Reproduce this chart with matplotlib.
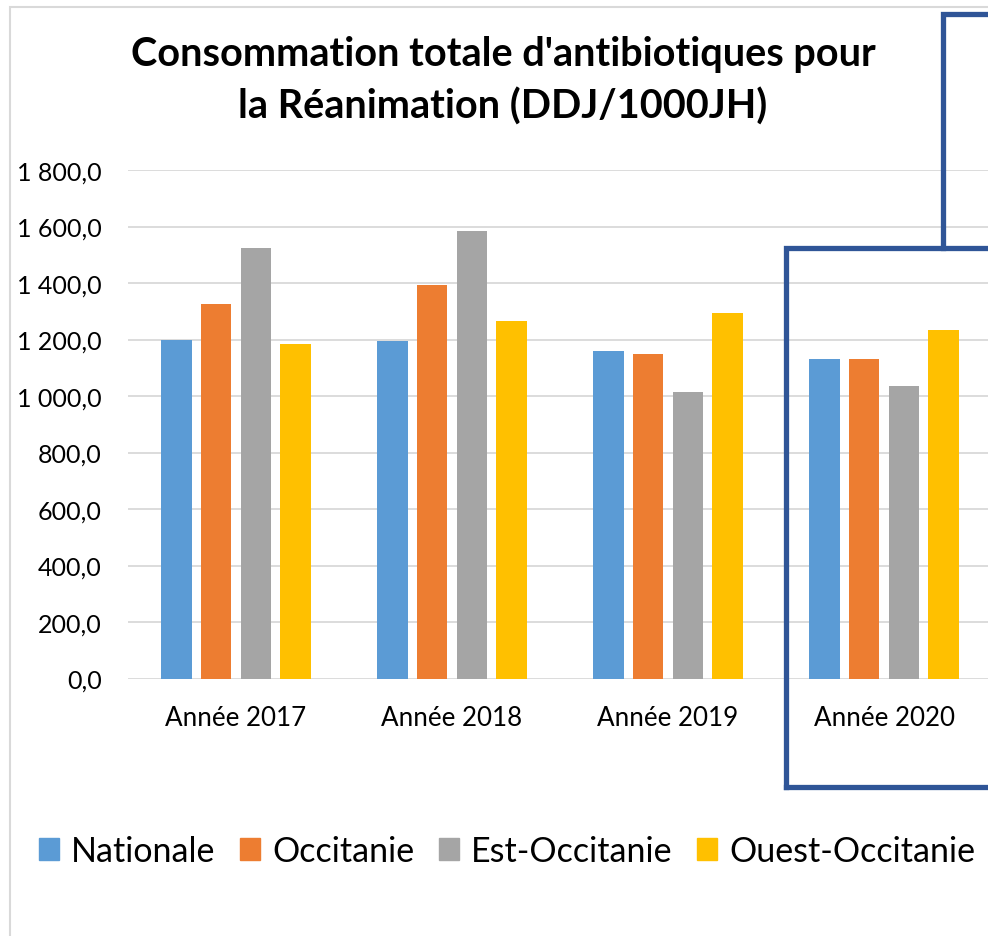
import numpy as np
import matplotlib
matplotlib.use("Agg")
import matplotlib.pyplot as plt
from matplotlib.lines import Line2D
from matplotlib.patches import Patch, Rectangle
from matplotlib.ticker import FuncFormatter

plt.rcParams['font.family'] = ['Lato', 'DejaVu Sans']

years = ["Année 2017", "Année 2018", "Année 2019", "Année 2020"]
series = ["Nationale", "Occitanie", "Est-Occitanie", "Ouest-Occitanie"]
nationale = [1199, 1194, 1159, 1131]
occitanie = [1325, 1392, 1150, 1131]
est_occ = [1523, 1585, 1013, 1036]
ouest_occ = [1185, 1265, 1293, 1234]
colors = ["#5B9BD5", "#ED7D31", "#A5A5A5", "#FFC000"]

W, H = 988, 937
fig = plt.figure(figsize=(W/100, H/100), dpi=100)
fx = lambda x: x / W
fy = lambda y: 1 - y / H

# outer chart frame (only left/top visible)
fig.patches.append(Rectangle((fx(10), fy(960)), fx(1100), fy(8) - fy(960),
                             transform=fig.transFigure, fill=False,
                             edgecolor="#D9D9D9", lw=1.5))

ax = fig.add_axes([fx(128), fy(679.5), fx(992) - fx(128), fy(171) - fy(679.5)])
x = np.arange(len(years))
bw = 0.143; step = 0.185
for i, (vals, c) in enumerate(zip([nationale, occitanie, est_occ, ouest_occ], colors)):
    ax.bar(x + (i - 1.5) * step, vals, width=bw, color=c, zorder=3)

ax.set_xlim(-0.5, 3.5)
ax.set_ylim(0, 1800)
ax.set_yticks(np.arange(0, 1801, 200))
ax.yaxis.set_major_formatter(FuncFormatter(
    lambda v, p: f"{v:,.1f}".replace(",", " ").replace(".", ",")))
ax.set_xticks(x)
ax.set_xticklabels(years)
ax.grid(axis="y", color="#D9D9D9", lw=1.3, zorder=0)
for sp in ax.spines.values():
    sp.set_visible(False)
ax.tick_params(length=0, colors="#000000")
ax.tick_params(axis="y", labelsize=18, pad=19)
ax.tick_params(axis="x", labelsize=18.7, pad=19)

fig.text(fx(503), fy(81), "Consommation totale d'antibiotiques pour\nla Réanimation (DDJ/1000JH)",
         ha="center", va="center", fontsize=28.5, fontweight="bold", linespacing=1.49)

handles = [Patch(color=c) for c in colors]
fig.legend(handles, series, loc="center", bbox_to_anchor=(fx(507), fy(852)), ncol=4,
           frameon=False, fontsize=24.5, handlelength=0.6, handleheight=0.6,
           handletextpad=0.35, columnspacing=0.72)

# blue annotation box around 2020
bc = "#2F5597"; blw = 3.8
fig.add_artist(Line2D([fx(786), fx(786), fx(1000)], [fy(788), fy(249), fy(249)],
                      transform=fig.transFigure, color=bc, lw=blw, solid_joinstyle="miter"))
fig.add_artist(Line2D([fx(786), fx(1000)], [fy(788), fy(788)],
                      transform=fig.transFigure, color=bc, lw=blw))
fig.add_artist(Line2D([fx(943), fx(943), fx(1000)], [fy(249), fy(15), fy(15)],
                      transform=fig.transFigure, color=bc, lw=blw, solid_joinstyle="miter"))

fig.savefig("out.png", dpi=100)
